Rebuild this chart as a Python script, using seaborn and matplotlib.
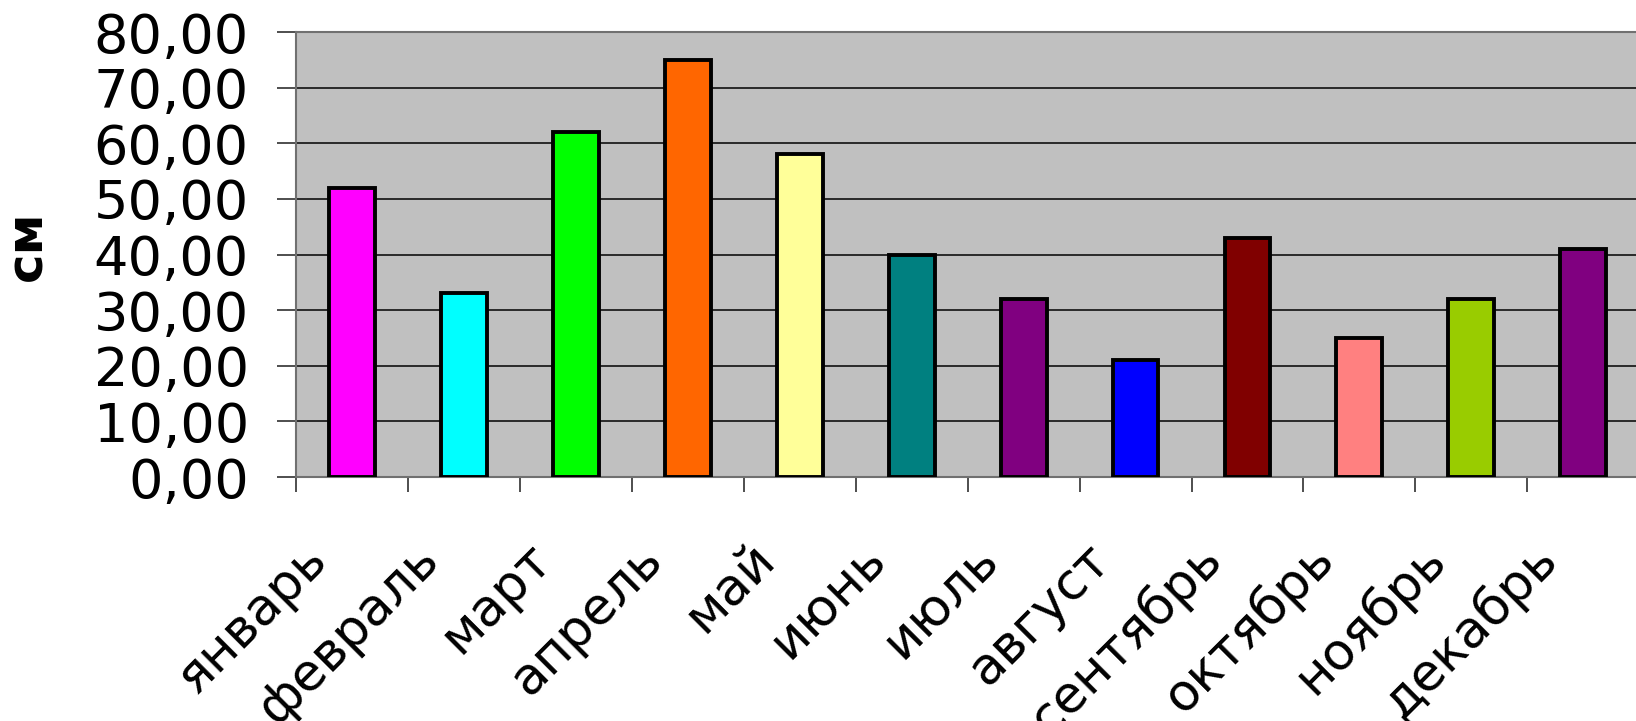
import matplotlib
matplotlib.use("Agg")
import matplotlib.pyplot as plt
import matplotlib.transforms as mtransforms
import seaborn as sns
import pandas as pd
import numpy as np

months = ["январь", "февраль", "март", "апрель", "май", "июнь",
          "июль", "август", "сентябрь", "октябрь", "ноябрь", "декабрь"]
values = [52, 33, 62, 75, 58, 40, 32, 21, 43, 25, 32, 41]
colors = ["#FF00FF", "#00FFFF", "#00FF00", "#FF6600", "#FFFF99", "#008080",
          "#800080", "#0000FF", "#800000", "#FF8080", "#99CC00", "#800080"]
y_ticks = [0, 10, 20, 30, 40, 50, 60, 70, 80]
y_label = "см"

sns.set_theme(style="white")
plt.rcParams['font.family'] = ['DejaVu Sans']
plt.rcParams['text.color'] = 'black'
plt.rcParams['xtick.color'] = 'black'
plt.rcParams['ytick.color'] = 'black'
plt.rcParams['axes.labelcolor'] = 'black'

df = pd.DataFrame({"month": months, "value": values})

fig = plt.figure(figsize=(16.36, 7.21), dpi=100)
ax = fig.add_axes([296/1636, 1 - 477/721, 1 - 296/1636 + 0.002, (477 - 32)/721])
ax.set_facecolor("#C0C0C0")

sns.barplot(data=df, x="month", y="value", hue="month", palette=colors,
            legend=False, width=0.41, edgecolor="black", linewidth=2.8,
            saturation=1, ax=ax, zorder=3)

ax.set_xlim(-0.5, len(months) - 0.5)
ax.set_ylim(y_ticks[0], y_ticks[-1])
ax.set_yticks(y_ticks)
ax.set_yticklabels([f"{v:.2f}".replace(".", ",") for v in y_ticks], fontsize=39)
ax.yaxis.grid(True, color="#101010", linewidth=1.2, zorder=1)
ax.set_axisbelow(True)

for side in ["top", "left", "bottom"]:
    ax.spines[side].set_visible(True)
    ax.spines[side].set_color("#707070")
    ax.spines[side].set_linewidth(1.5)
ax.spines["right"].set_visible(False)

ax.tick_params(axis="y", which="major", length=14, width=1.3, color="#404040",
               labelcolor="black", direction="out", pad=20, left=True)

# category boundary ticks
ax.set_xticks(np.arange(-0.5, len(months), 1.0), minor=True)
ax.tick_params(axis="x", which="minor", length=11, width=1.3, color="#404040",
               direction="out", bottom=True)
ax.set_xticks(range(len(months)))
ax.set_xticklabels(months, rotation=45, ha="right", va="baseline",
                   rotation_mode="anchor", fontsize=37, color="black")
ax.tick_params(axis="x", which="major", length=0, pad=61)

shift = mtransforms.ScaledTranslation(-0.23, 0, fig.dpi_scale_trans)
for lab in ax.get_xticklabels():
    lab.set_transform(lab.get_transform() + shift)

ax.set_xlabel("")
ax.set_ylabel(y_label, fontsize=36, fontweight="bold", color="black")
ax.yaxis.set_label_coords((52 - 296) / 1340, 0.52)

fig.savefig("out.png", dpi=100, facecolor="white")
